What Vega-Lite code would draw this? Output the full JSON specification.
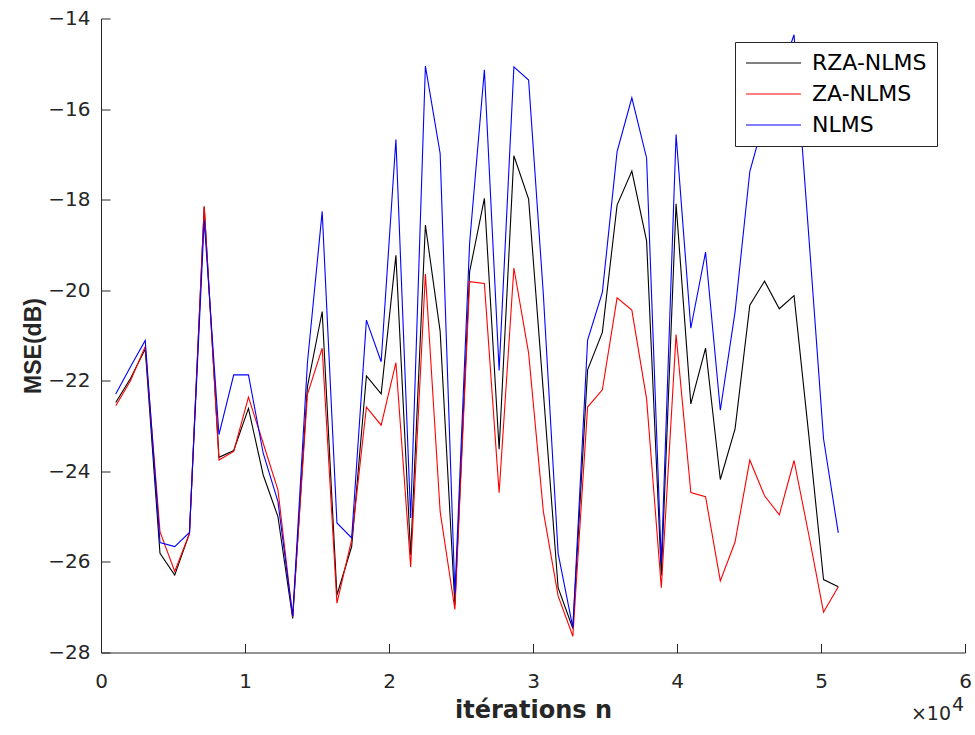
{
  "$schema": "https://vega.github.io/schema/vega-lite/v6.json",
  "width": 864,
  "height": 634,
  "autosize": {"type": "none"},
  "padding": {"left": 101, "top": 18.5, "right": 10, "bottom": 82.5},
  "background": "white",
  "config": {
    "view": {"stroke": null},
    "axis": {
      "grid": false,
      "domainColor": "#262626",
      "domainWidth": 1,
      "tickColor": "#262626",
      "tickWidth": 1,
      "tickSize": -9,
      "labelColor": "#262626",
      "labelFont": "DejaVu Sans",
      "labelFontSize": 20,
      "labelFlush": false,
      "labelOverlap": false,
      "titleColor": "#262626"
    },
    "legend": {
      "orient": "none",
      "legendX": 634,
      "legendY": 23.5,
      "fillColor": "white",
      "strokeColor": "#262626",
      "padding": 10,
      "cornerRadius": 0,
      "labelFont": "DejaVu Sans",
      "labelFontSize": 22,
      "labelColor": "black",
      "labelOffset": 45,
      "rowPadding": 9,
      "symbolType": "M-1,0H4.5",
      "symbolSize": 400,
      "symbolStrokeWidth": 1
    }
  },
  "data": {
    "values": [
      {"n": 1024, "algo": "RZA-NLMS", "mse": -22.48},
      {"n": 2048, "algo": "RZA-NLMS", "mse": -21.95},
      {"n": 3072, "algo": "RZA-NLMS", "mse": -21.30},
      {"n": 4096, "algo": "RZA-NLMS", "mse": -25.81},
      {"n": 5120, "algo": "RZA-NLMS", "mse": -26.29},
      {"n": 6144, "algo": "RZA-NLMS", "mse": -25.37},
      {"n": 7168, "algo": "RZA-NLMS", "mse": -18.15},
      {"n": 8192, "algo": "RZA-NLMS", "mse": -23.69},
      {"n": 9216, "algo": "RZA-NLMS", "mse": -23.54},
      {"n": 10240, "algo": "RZA-NLMS", "mse": -22.61},
      {"n": 11264, "algo": "RZA-NLMS", "mse": -24.08},
      {"n": 12288, "algo": "RZA-NLMS", "mse": -25.00},
      {"n": 13312, "algo": "RZA-NLMS", "mse": -27.25},
      {"n": 14336, "algo": "RZA-NLMS", "mse": -22.13},
      {"n": 15360, "algo": "RZA-NLMS", "mse": -20.47},
      {"n": 16384, "algo": "RZA-NLMS", "mse": -26.73},
      {"n": 17408, "algo": "RZA-NLMS", "mse": -25.66},
      {"n": 18432, "algo": "RZA-NLMS", "mse": -21.89},
      {"n": 19456, "algo": "RZA-NLMS", "mse": -22.29},
      {"n": 20480, "algo": "RZA-NLMS", "mse": -19.23},
      {"n": 21504, "algo": "RZA-NLMS", "mse": -25.84},
      {"n": 22528, "algo": "RZA-NLMS", "mse": -18.56},
      {"n": 23552, "algo": "RZA-NLMS", "mse": -20.91},
      {"n": 24576, "algo": "RZA-NLMS", "mse": -26.95},
      {"n": 25600, "algo": "RZA-NLMS", "mse": -19.59},
      {"n": 26624, "algo": "RZA-NLMS", "mse": -17.97},
      {"n": 27648, "algo": "RZA-NLMS", "mse": -23.51},
      {"n": 28672, "algo": "RZA-NLMS", "mse": -17.03},
      {"n": 29696, "algo": "RZA-NLMS", "mse": -17.99},
      {"n": 30720, "algo": "RZA-NLMS", "mse": -22.25},
      {"n": 31744, "algo": "RZA-NLMS", "mse": -26.57},
      {"n": 32768, "algo": "RZA-NLMS", "mse": -27.47},
      {"n": 33792, "algo": "RZA-NLMS", "mse": -21.76},
      {"n": 34816, "algo": "RZA-NLMS", "mse": -20.93},
      {"n": 35840, "algo": "RZA-NLMS", "mse": -18.12},
      {"n": 36864, "algo": "RZA-NLMS", "mse": -17.37},
      {"n": 37888, "algo": "RZA-NLMS", "mse": -18.91},
      {"n": 38912, "algo": "RZA-NLMS", "mse": -26.30},
      {"n": 39936, "algo": "RZA-NLMS", "mse": -18.09},
      {"n": 40960, "algo": "RZA-NLMS", "mse": -22.51},
      {"n": 41984, "algo": "RZA-NLMS", "mse": -21.28},
      {"n": 43008, "algo": "RZA-NLMS", "mse": -24.18},
      {"n": 44032, "algo": "RZA-NLMS", "mse": -23.06},
      {"n": 45056, "algo": "RZA-NLMS", "mse": -20.33},
      {"n": 46080, "algo": "RZA-NLMS", "mse": -19.80},
      {"n": 47104, "algo": "RZA-NLMS", "mse": -20.41},
      {"n": 48128, "algo": "RZA-NLMS", "mse": -20.12},
      {"n": 49152, "algo": "RZA-NLMS", "mse": -23.20},
      {"n": 50176, "algo": "RZA-NLMS", "mse": -26.39},
      {"n": 51200, "algo": "RZA-NLMS", "mse": -26.55},

      {"n": 1024, "algo": "ZA-NLMS", "mse": -22.55},
      {"n": 2048, "algo": "ZA-NLMS", "mse": -22.00},
      {"n": 3072, "algo": "ZA-NLMS", "mse": -21.24},
      {"n": 4096, "algo": "ZA-NLMS", "mse": -25.33},
      {"n": 5120, "algo": "ZA-NLMS", "mse": -26.21},
      {"n": 6144, "algo": "ZA-NLMS", "mse": -25.37},
      {"n": 7168, "algo": "ZA-NLMS", "mse": -18.15},
      {"n": 8192, "algo": "ZA-NLMS", "mse": -23.75},
      {"n": 9216, "algo": "ZA-NLMS", "mse": -23.56},
      {"n": 10240, "algo": "ZA-NLMS", "mse": -22.36},
      {"n": 11264, "algo": "ZA-NLMS", "mse": -23.38},
      {"n": 12288, "algo": "ZA-NLMS", "mse": -24.41},
      {"n": 13312, "algo": "ZA-NLMS", "mse": -27.21},
      {"n": 14336, "algo": "ZA-NLMS", "mse": -22.30},
      {"n": 15360, "algo": "ZA-NLMS", "mse": -21.28},
      {"n": 16384, "algo": "ZA-NLMS", "mse": -26.91},
      {"n": 17408, "algo": "ZA-NLMS", "mse": -25.51},
      {"n": 18432, "algo": "ZA-NLMS", "mse": -22.58},
      {"n": 19456, "algo": "ZA-NLMS", "mse": -22.98},
      {"n": 20480, "algo": "ZA-NLMS", "mse": -21.60},
      {"n": 21504, "algo": "ZA-NLMS", "mse": -26.11},
      {"n": 22528, "algo": "ZA-NLMS", "mse": -19.64},
      {"n": 23552, "algo": "ZA-NLMS", "mse": -24.89},
      {"n": 24576, "algo": "ZA-NLMS", "mse": -27.05},
      {"n": 25600, "algo": "ZA-NLMS", "mse": -19.81},
      {"n": 26624, "algo": "ZA-NLMS", "mse": -19.85},
      {"n": 27648, "algo": "ZA-NLMS", "mse": -24.47},
      {"n": 28672, "algo": "ZA-NLMS", "mse": -19.51},
      {"n": 29696, "algo": "ZA-NLMS", "mse": -21.39},
      {"n": 30720, "algo": "ZA-NLMS", "mse": -24.89},
      {"n": 31744, "algo": "ZA-NLMS", "mse": -26.75},
      {"n": 32768, "algo": "ZA-NLMS", "mse": -27.64},
      {"n": 33792, "algo": "ZA-NLMS", "mse": -22.58},
      {"n": 34816, "algo": "ZA-NLMS", "mse": -22.20},
      {"n": 35840, "algo": "ZA-NLMS", "mse": -20.17},
      {"n": 36864, "algo": "ZA-NLMS", "mse": -20.44},
      {"n": 37888, "algo": "ZA-NLMS", "mse": -22.40},
      {"n": 38912, "algo": "ZA-NLMS", "mse": -26.57},
      {"n": 39936, "algo": "ZA-NLMS", "mse": -20.98},
      {"n": 40960, "algo": "ZA-NLMS", "mse": -24.47},
      {"n": 41984, "algo": "ZA-NLMS", "mse": -24.56},
      {"n": 43008, "algo": "ZA-NLMS", "mse": -26.42},
      {"n": 44032, "algo": "ZA-NLMS", "mse": -25.56},
      {"n": 45056, "algo": "ZA-NLMS", "mse": -23.75},
      {"n": 46080, "algo": "ZA-NLMS", "mse": -24.54},
      {"n": 47104, "algo": "ZA-NLMS", "mse": -24.96},
      {"n": 48128, "algo": "ZA-NLMS", "mse": -23.76},
      {"n": 49152, "algo": "ZA-NLMS", "mse": -25.40},
      {"n": 50176, "algo": "ZA-NLMS", "mse": -27.11},
      {"n": 51200, "algo": "ZA-NLMS", "mse": -26.55},

      {"n": 1024, "algo": "NLMS", "mse": -22.29},
      {"n": 2048, "algo": "NLMS", "mse": -21.69},
      {"n": 3072, "algo": "NLMS", "mse": -21.11},
      {"n": 4096, "algo": "NLMS", "mse": -25.57},
      {"n": 5120, "algo": "NLMS", "mse": -25.66},
      {"n": 6144, "algo": "NLMS", "mse": -25.35},
      {"n": 7168, "algo": "NLMS", "mse": -18.46},
      {"n": 8192, "algo": "NLMS", "mse": -23.19},
      {"n": 9216, "algo": "NLMS", "mse": -21.87},
      {"n": 10240, "algo": "NLMS", "mse": -21.87},
      {"n": 11264, "algo": "NLMS", "mse": -23.60},
      {"n": 12288, "algo": "NLMS", "mse": -24.67},
      {"n": 13312, "algo": "NLMS", "mse": -27.20},
      {"n": 14336, "algo": "NLMS", "mse": -21.60},
      {"n": 15360, "algo": "NLMS", "mse": -18.26},
      {"n": 16384, "algo": "NLMS", "mse": -25.14},
      {"n": 17408, "algo": "NLMS", "mse": -25.47},
      {"n": 18432, "algo": "NLMS", "mse": -20.66},
      {"n": 19456, "algo": "NLMS", "mse": -21.58},
      {"n": 20480, "algo": "NLMS", "mse": -16.67},
      {"n": 21504, "algo": "NLMS", "mse": -25.03},
      {"n": 22528, "algo": "NLMS", "mse": -15.05},
      {"n": 23552, "algo": "NLMS", "mse": -16.98},
      {"n": 24576, "algo": "NLMS", "mse": -26.70},
      {"n": 25600, "algo": "NLMS", "mse": -18.95},
      {"n": 26624, "algo": "NLMS", "mse": -15.13},
      {"n": 27648, "algo": "NLMS", "mse": -21.77},
      {"n": 28672, "algo": "NLMS", "mse": -15.07},
      {"n": 29696, "algo": "NLMS", "mse": -15.36},
      {"n": 30720, "algo": "NLMS", "mse": -20.10},
      {"n": 31744, "algo": "NLMS", "mse": -25.81},
      {"n": 32768, "algo": "NLMS", "mse": -27.45},
      {"n": 33792, "algo": "NLMS", "mse": -21.10},
      {"n": 34816, "algo": "NLMS", "mse": -20.05},
      {"n": 35840, "algo": "NLMS", "mse": -16.94},
      {"n": 36864, "algo": "NLMS", "mse": -15.75},
      {"n": 37888, "algo": "NLMS", "mse": -17.08},
      {"n": 38912, "algo": "NLMS", "mse": -26.03},
      {"n": 39936, "algo": "NLMS", "mse": -16.56},
      {"n": 40960, "algo": "NLMS", "mse": -20.84},
      {"n": 41984, "algo": "NLMS", "mse": -19.16},
      {"n": 43008, "algo": "NLMS", "mse": -22.65},
      {"n": 44032, "algo": "NLMS", "mse": -20.48},
      {"n": 45056, "algo": "NLMS", "mse": -17.38},
      {"n": 46080, "algo": "NLMS", "mse": -16.20},
      {"n": 47104, "algo": "NLMS", "mse": -15.30},
      {"n": 48128, "algo": "NLMS", "mse": -14.36},
      {"n": 49152, "algo": "NLMS", "mse": -18.80},
      {"n": 50176, "algo": "NLMS", "mse": -23.28},
      {"n": 51200, "algo": "NLMS", "mse": -25.36}
    ]
  },
  "layer": [
    {
      "mark": {"type": "line", "strokeWidth": 1.1},
      "encoding": {
        "x": {
          "field": "n",
          "type": "quantitative",
          "scale": {"domain": [0, 60000], "nice": false, "zero": false},
          "axis": {
            "values": [0, 10000, 20000, 30000, 40000, 50000, 60000],
            "labelExpr": "format(datum.value / 10000, 'd')",
            "labelPadding": 28,
            "title": "itérations n",
            "titleFont": "DejaVu Sans",
            "titleFontWeight": "bold",
            "titleFontSize": 24,
            "titleX": 432,
            "titleY": 64.5,
            "titleAlign": "center",
            "titleBaseline": "alphabetic"
          }
        },
        "y": {
          "field": "mse",
          "type": "quantitative",
          "scale": {"domain": [-28, -14], "nice": false, "zero": false},
          "axis": {
            "values": [-28, -26, -24, -22, -20, -18, -16, -14],
            "labelPadding": 20,
            "title": "MSE(dB)",
            "titleFont": "Liberation Sans",
            "titleFontWeight": "bold",
            "titleFontSize": 23,
            "titleAngle": -90,
            "titleX": -61,
            "titleY": 327,
            "titleAlign": "center",
            "titleBaseline": "alphabetic"
          }
        },
        "color": {
          "field": "algo",
          "type": "nominal",
          "scale": {
            "domain": ["RZA-NLMS", "ZA-NLMS", "NLMS"],
            "range": ["#000000", "#ff0000", "#0000ff"]
          },
          "legend": {"title": null}
        }
      }
    },
    {
      "data": {"values": [{"n": 60000, "mse": -28, "base": "×10", "power": "4"}]},
      "layer": [
        {
          "mark": {"type": "text", "font": "DejaVu Sans", "fontSize": 19, "color": "#262626", "align": "right", "baseline": "alphabetic", "dx": -14, "dy": 67},
          "encoding": {
            "x": {"field": "n", "type": "quantitative"},
            "y": {"field": "mse", "type": "quantitative"},
            "text": {"field": "base"}
          }
        },
        {
          "mark": {"type": "text", "font": "DejaVu Sans", "fontSize": 19, "color": "#262626", "align": "left", "baseline": "alphabetic", "dx": -13, "dy": 58},
          "encoding": {
            "x": {"field": "n", "type": "quantitative"},
            "y": {"field": "mse", "type": "quantitative"},
            "text": {"field": "power"}
          }
        }
      ]
    }
  ]
}
